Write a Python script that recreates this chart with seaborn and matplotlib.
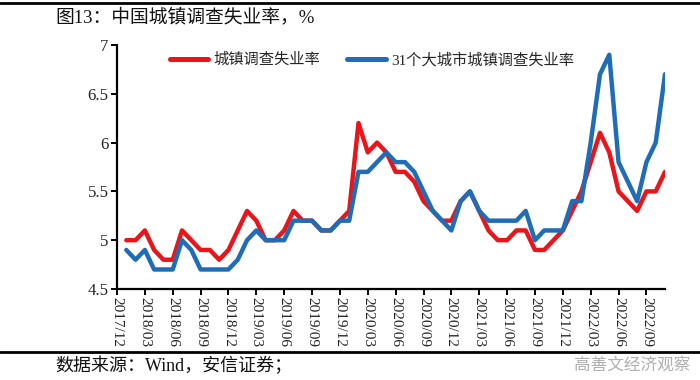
import matplotlib
matplotlib.use("Agg")
import matplotlib.pyplot as plt
from matplotlib.lines import Line2D
import numpy as np
import pandas as pd
import seaborn as sns

# ---------------- data ----------------
first_month = "2018-01"
last_month = "2022-11"
axis_origin = "2017-12"

national = [5.0, 5.0, 5.1, 4.9, 4.8, 4.8, 5.1, 5.0, 4.9, 4.9, 4.8, 4.9,
            5.1, 5.3, 5.2, 5.0, 5.0, 5.1, 5.3, 5.2, 5.2, 5.1, 5.1, 5.2,
            5.3, 6.2, 5.9, 6.0, 5.9, 5.7, 5.7, 5.6, 5.4, 5.3, 5.2, 5.2,
            5.4, 5.5, 5.3, 5.1, 5.0, 5.0, 5.1, 5.1, 4.9, 4.9, 5.0, 5.1,
            5.3, 5.5, 5.8, 6.1, 5.9, 5.5, 5.4, 5.3, 5.5, 5.5, 5.7]

city31 = [4.9, 4.8, 4.9, 4.7, 4.7, 4.7, 5.0, 4.9, 4.7, 4.7, 4.7, 4.7,
          4.8, 5.0, 5.1, 5.0, 5.0, 5.0, 5.2, 5.2, 5.2, 5.1, 5.1, 5.2,
          5.2, 5.7, 5.7, 5.8, 5.9, 5.8, 5.8, 5.7, 5.5, 5.3, 5.2, 5.1,
          5.4, 5.5, 5.3, 5.2, 5.2, 5.2, 5.2, 5.3, 5.0, 5.1, 5.1, 5.1,
          5.4, 5.4, 6.0, 6.7, 6.9, 5.8, 5.6, 5.4, 5.8, 6.0, 6.7]

series_names = ["城镇调查失业率", "31个大城市城镇调查失业率"]
series_colors = ["#E8151B", "#1F6DB6"]

tick_labels = ["2017/12", "2018/03", "2018/06", "2018/09", "2018/12",
               "2019/03", "2019/06", "2019/09", "2019/12", "2020/03",
               "2020/06", "2020/09", "2020/12", "2021/03", "2021/06",
               "2021/09", "2021/12", "2022/03", "2022/06", "2022/09"]
y_ticks = [4.5, 5, 5.5, 6, 6.5, 7]

title = "图13：中国城镇调查失业率，%"
source = "数据来源：Wind，安信证券；"
watermark = "高善文经济观察"

# ---------------- prep ----------------
origin = pd.Period(axis_origin, freq="M")
months = pd.period_range(first_month, last_month, freq="M")
xpos = [(m - origin).n for m in months]
tick_pos = [(pd.Period(t.replace("/", "-"), freq="M") - origin).n for t in tick_labels]

df = pd.DataFrame({
    "x": xpos * 2,
    "value": national + city31,
    "series": [series_names[0]] * len(national) + [series_names[1]] * len(city31),
})

sns.set_theme(style="white")
plt.rcParams["font.family"] = ["Liberation Serif", "Noto Sans CJK SC", "DejaVu Sans"]

fig = plt.figure(figsize=(7.0, 3.8), dpi=100)
ax = fig.add_axes([117 / 700, 1 - 289 / 380, (665 - 117) / 700, (289 - 45) / 380])

sns.lineplot(data=df, x="x", y="value", hue="series", hue_order=series_names,
             palette=dict(zip(series_names, series_colors)), linewidth=3.2,
             ax=ax, legend=False)

ax.set_xlim(0, max(xpos))
ax.set_ylim(min(y_ticks), max(y_ticks))
ax.set_yticks(y_ticks)
ax.set_yticklabels([f"{v:g}" for v in y_ticks], fontsize=12, color="#222222")
ax.set_xticks(tick_pos)
ax.set_xticklabels(tick_labels, rotation=-90, fontsize=11, color="#222222")
ax.set_xlabel("")
ax.set_ylabel("")

for s in ["top", "right"]:
    ax.spines[s].set_visible(False)
for s in ["left", "bottom"]:
    ax.spines[s].set_color("black")
    ax.spines[s].set_linewidth(1.6)
ax.tick_params(axis="both", direction="out", length=4, width=1.4, color="black",
               left=True, bottom=True, pad=2)
ax.grid(False)

handles = [Line2D([0], [0], color=c, lw=3.6) for c in series_colors]
ax.legend(handles, series_names, loc="center", bbox_to_anchor=(0.465, 0.94),
          ncol=2, frameon=False, fontsize=11, handlelength=2.5,
          handletextpad=0.35, columnspacing=1.8)

# title, rules, source
fig.text(55 / 700, 1 - 17 / 380, title, fontsize=13.5, va="center", ha="left",
         color="#111111")
fig.add_artist(Line2D([0, 1], [1 - 3 / 380, 1 - 3 / 380], color="black", lw=2.0))
fig.add_artist(Line2D([0, 1], [1 - 352 / 380, 1 - 352 / 380], color="black", lw=2.0))
fig.text(55 / 700, 1 - 366 / 380, source, fontsize=13, va="center", ha="left",
         color="#111111")
fig.text(690 / 700, 1 - 366 / 380, watermark, fontsize=12, va="center", ha="right",
         color="#9a9a9a", alpha=0.8)

fig.savefig("out.png", dpi=100)
